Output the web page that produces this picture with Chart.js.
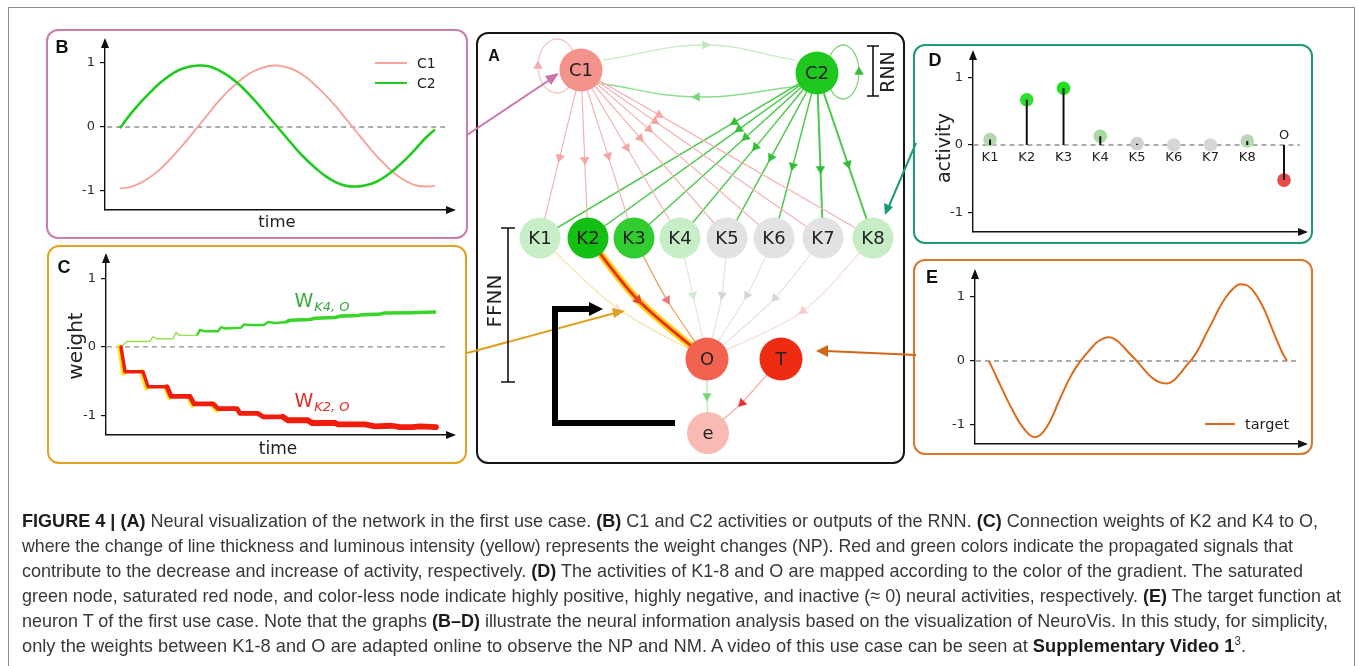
<!DOCTYPE html>
<html>
<head>
<meta charset="utf-8">
<script src="https://cdn.jsdelivr.net/npm/chart.js@4.4.1/dist/chart.umd.min.js"></script>
<style>
html,body{margin:0;padding:0;background:#fff}
body{width:1358px;height:666px;position:relative;overflow:hidden;font-family:'DejaVu Sans',sans-serif;color:#222}
canvas{position:absolute}
.frame{position:absolute;left:8px;top:7px;width:1347px;height:720px;border:1.5px solid #8c8c8c;border-bottom:none;box-sizing:border-box}
.box{position:absolute;border:2.5px solid;border-radius:12px;box-sizing:border-box;pointer-events:none}
.t{position:absolute;white-space:nowrap;line-height:1}
.c{transform:translate(-50%,-50%)}
.rot{transform:translate(-50%,-50%) rotate(-90deg)}
.letter{font-family:'Liberation Sans',Arial,sans-serif;font-weight:bold;font-size:18px;color:#111}
.sub{font-style:italic;font-size:13px;position:relative;top:4px;margin-left:1px}
.leg{position:absolute;height:0}
.cap{position:absolute;left:22px;font-family:'Liberation Sans',Arial,sans-serif;font-size:19px;color:#383838;white-space:nowrap;transform-origin:0 50%;line-height:24px}
.cap b{font-weight:bold;color:#1c1c1c}
.cap sup{font-size:12px;line-height:0}
svg{position:absolute;left:0;top:0}
</style>
</head>
<body>
<div class="frame"></div>

<canvas id="chartB" width="420" height="209" style="left:47px;top:29px"></canvas>
<canvas id="chartC" width="420" height="218" style="left:47px;top:245px"></canvas>
<canvas id="chartA" width="428" height="430" style="left:477px;top:33px"></canvas>
<canvas id="chartD" width="398" height="197" style="left:915px;top:46px"></canvas>
<canvas id="chartE" width="398" height="193" style="left:915px;top:260px"></canvas>

<div class="box" style="left:46px;top:29px;width:422px;height:210px;border-color:#c97db0"></div>
<div class="box" style="left:47px;top:245px;width:420px;height:219px;border-color:#e2a322"></div>
<div class="box" style="left:476px;top:32px;width:429px;height:432px;border-color:#161616"></div>
<div class="box" style="left:913px;top:44px;width:400px;height:200px;border-color:#1d9b79"></div>
<div class="box" style="left:913px;top:259px;width:400px;height:196px;border-color:#d9772c"></div>

<svg width="1358" height="666" viewBox="0 0 1358 666">
  <!-- connectors between the panels -->
  <line x1="467" y1="135" x2="551" y2="79" stroke="#c874aa" stroke-width="2"/>
  <polygon points="559,73 545,76 551,85" fill="#c874aa"/>
  <line x1="467" y1="353" x2="615" y2="313" stroke="#e0a020" stroke-width="2"/>
  <polygon points="625,311 612,308 614,318" fill="#e0a020"/>
  <line x1="916" y1="143" x2="889" y2="206" stroke="#1a9a78" stroke-width="2"/>
  <polygon points="885,215 884,203 893,207" fill="#1a9a78"/>
  <line x1="916" y1="355" x2="826" y2="351" stroke="#d06818" stroke-width="2"/>
  <polygon points="816,351 828,345 828,357" fill="#d06818"/>
  <!-- RNN / FFNN brackets -->
  <path d="M867 46 H879 M873 46 V96 M867 96 H879" stroke="#111" stroke-width="1.6" fill="none"/>
  <path d="M501 228 H515 M508 228 V382 M501 382 H515" stroke="#111" stroke-width="1.6" fill="none"/>
  <!-- feedback arrow -->
  <polyline points="675,423 555,423 555,309 590,309" stroke="#000" stroke-width="6" fill="none"/>
  <polygon points="603,309 589,302 589,316" fill="#000"/>
</svg>

<div class="t letter c" style="left:62px;top:47px">B</div>
<div class="t letter c" style="left:64px;top:267px">C</div>
<div class="t letter c" style="left:494px;top:56px;font-size:16px">A</div>
<div class="t letter c" style="left:935px;top:60px">D</div>
<div class="t letter c" style="left:932px;top:277px">E</div>

<div class="t c" style="left:277px;top:222px;font-size:16.5px">time</div>
<div class="t c" style="left:278px;top:448px;font-size:17px">time</div>
<div class="t rot" style="left:75px;top:346px;font-size:20px">weight</div>
<div class="t rot" style="left:943px;top:148px;font-size:19px">activity</div>
<div class="t rot" style="left:887px;top:72px;font-size:19px">RNN</div>
<div class="t rot" style="left:494px;top:301px;font-size:20px">FFNN</div>

<div class="leg" style="left:375px;top:62px;width:32px;border-top:2px solid #f5a39b"></div>
<div class="t" style="left:417px;top:56px;font-size:14px">C1</div>
<div class="leg" style="left:375px;top:82px;width:32px;border-top:2.5px solid #22cc22"></div>
<div class="t" style="left:417px;top:76px;font-size:14px">C2</div>
<div class="leg" style="left:1205px;top:423px;width:30px;border-top:2px solid #dd6a1a"></div>
<div class="t" style="left:1245px;top:417px;font-size:14.5px">target</div>

<div class="t c" style="left:322px;top:300px;font-size:19px;color:#3aa83a">W<span class="sub">K4, O</span></div>
<div class="t c" style="left:322px;top:400px;font-size:19px;color:#e42a2a">W<span class="sub">K2, O</span></div>

<div class="cap" style="top:509px"><b>FIGURE 4 | (A)</b> Neural visualization of the network in the first use case. <b>(B)</b> C1 and C2 activities or outputs of the RNN. <b>(C)</b> Connection weights of K2 and K4 to O,</div>
<div class="cap" style="top:534px">where the change of line thickness and luminous intensity (yellow) represents the weight changes (NP). Red and green colors indicate the propagated signals that</div>
<div class="cap" style="top:559px">contribute to the decrease and increase of activity, respectively. <b>(D)</b> The activities of K1-8 and O are mapped according to the color of the gradient. The saturated</div>
<div class="cap" style="top:584px">green node, saturated red node, and color-less node indicate highly positive, highly negative, and inactive (≈ 0) neural activities, respectively. <b>(E)</b> The target function at</div>
<div class="cap" style="top:609px">neuron T of the first use case. Note that the graphs <b>(B–D)</b> illustrate the neural information analysis based on the visualization of NeuroVis. In this study, for simplicity,</div>
<div class="cap" style="top:634px">only the weights between K1-8 and O are adapted online to observe the NP and NM. A video of this use case can be seen at <b>Supplementary Video 1</b><sup>3</sup>.</div>

<script>
// ---------------- data ----------------
// (B) RNN outputs over time
const bTime = [0,1,2,3,4,5,6,7,8,9,10,11,12,13,14,15,16,17,18,19,20,21,22,23,24,25,26,27,28,29,30,31,32];
const bC1 = [-0.96,-0.94,-0.88,-0.79,-0.67,-0.52,-0.35,-0.17,0.02,0.21,0.40,0.56,0.70,0.82,0.90,0.95,0.96,0.93,0.87,0.77,0.63,0.48,0.31,0.12,-0.07,-0.26,-0.44,-0.60,-0.74,-0.84,-0.91,-0.93,-0.92];
const bC2 = [-0.02,0.19,0.37,0.53,0.68,0.80,0.89,0.94,0.96,0.95,0.89,0.80,0.68,0.53,0.36,0.18,0.00,-0.18,-0.36,-0.52,-0.66,-0.78,-0.87,-0.92,-0.93,-0.91,-0.86,-0.77,-0.65,-0.51,-0.35,-0.18,-0.04];

// (C) connection weights over time
const wK4Time = [0,6,29,32,36,52,55,59,76,79,83,97,100,104,120,123,127,143,147,154,164,169,189,194,214,219,237,241,259,264,289,315];
const wK4 = [0,0.08,0.08,0.15,0.12,0.12,0.21,0.17,0.17,0.25,0.23,0.23,0.29,0.27,0.28,0.33,0.32,0.32,0.365,0.35,0.36,0.39,0.40,0.42,0.43,0.45,0.46,0.47,0.48,0.495,0.50,0.51];
const wK2Time = [0,4,22,27,46,50,69,73,92,97,116,119,137,142,162,167,187,191,214,217,244,254,271,279,291,299,315];
const wK2 = [0,-0.36,-0.36,-0.58,-0.58,-0.72,-0.72,-0.83,-0.83,-0.90,-0.90,-0.97,-0.97,-1.02,-1.02,-1.07,-1.07,-1.11,-1.11,-1.13,-1.13,-1.16,-1.15,-1.17,-1.17,-1.16,-1.17];

// (D) activities of the hidden neurons and the output
const dNames = ['K1','K2','K3','K4','K5','K6','K7','K8','O'];
const dActivity = [0.08,0.67,0.84,0.13,0.02,0.00,0.00,0.06,-0.52];
const dColors = ['#b6d7ad','#2fe02f','#22df22','#a9d8a1','#cfcfcf','#d6d6d6','#d6d6d6','#b9d5b1','#e84a4a'];

// (E) target function
const eTime = [0,6,12,18,24,30,36,41,46,51,57,63,69,75,81,87,93,100,107,114,120,127,134,141,149,156,163,170,178,185,192,198,203,210,217,223,230,237,244,251,257,263,269,276,282,288,293,298];
const eTarget = [0,-0.2,-0.4,-0.6,-0.78,-0.95,-1.08,-1.16,-1.19,-1.16,-1.05,-0.88,-0.66,-0.45,-0.26,-0.1,0.03,0.16,0.28,0.35,0.37,0.33,0.23,0.11,-0.02,-0.15,-0.26,-0.33,-0.35,-0.3,-0.18,-0.06,0.03,0.2,0.42,0.6,0.82,1.0,1.13,1.2,1.19,1.12,0.99,0.78,0.55,0.32,0.14,0];

const yTicks = [-1, 0, 1];

// (A) network: neurons and their activity colours
const nodeNames = ['C1','C2','K1','K2','K3','K4','K5','K6','K7','K8','O','T','e'];
const nodeColors = ['#f4938b','#1ec81e','#c8eec8','#13bf13','#30cc30','#c8eec8','#e2e2e2','#e2e2e2','#e2e2e2','#c6edc6','#f2634f','#ee2c12','#f9bab3'];
const hiddenNames = ['K1','K2','K3','K4','K5','K6','K7','K8'];

// ---------------- layout of the network panel (panel pixels) ----------------
const nodeX = [104,340,63,111,157,203,250,297,346,396,230,304,231];
const nodeY = [37,40,205,205,205,205,205,205,205,205,326,326,400];
const nodeR = [21.5,21.5,20.5,20.5,20.5,20.5,20.5,20.5,20.5,20.5,21.5,21.5,21];
const koBend = {K1:[140,275],K2:[161,267],K3:[190,267],K4:[216,262],K5:[245,262],K6:[270,262],K7:[298,265],K8:[326,278]};

// ---------------- shared axis helpers ----------------
const FONT = 'DejaVu Sans';
const axisArrows = {
  id: 'axisArrows',
  afterDraw(chart) {
    const {ctx, chartArea: a} = chart;
    ctx.save();
    ctx.fillStyle = '#111';
    ctx.beginPath();
    ctx.moveTo(a.left, a.top - 3); ctx.lineTo(a.left - 4, a.top + 7); ctx.lineTo(a.left + 4, a.top + 7);
    ctx.closePath(); ctx.fill();
    ctx.beginPath();
    ctx.moveTo(a.right + 3, a.bottom); ctx.lineTo(a.right - 7, a.bottom - 4); ctx.lineTo(a.right - 7, a.bottom + 4);
    ctx.closePath(); ctx.fill();
    ctx.restore();
  }
};

function zeroLine(x0, x1) {
  return {type: 'line', data: [{x: x0, y: 0}, {x: x1, y: 0}], borderColor: '#8f8f8f', borderWidth: 1.3,
          borderDash: [5, 4], pointRadius: 0, order: 20};
}

function plot(id, g, datasets, plugins) {
  return new Chart(document.getElementById(id), {
    type: 'line',
    data: {datasets},
    options: {
      responsive: false, maintainAspectRatio: false, animation: false, events: [],
      layout: {autoPadding: false, padding: {left: 0, top: g.top, right: g.right, bottom: 0}},
      plugins: {legend: {display: false}, tooltip: {enabled: false}},
      elements: {point: {radius: 0}},
      scales: {
        x: {type: 'linear', min: g.xmin, max: g.xmax,
            afterFit(s) { s.height = g.xh; s.paddingLeft = 0; s.paddingRight = 0; },
            ticks: {display: false}, grid: {display: false},
            border: {display: true, color: '#111', width: 1.4}},
        y: {type: 'linear', min: g.ymin, max: g.ymax,
            afterFit(s) { s.width = g.yw; s.paddingTop = 0; s.paddingBottom = 0; },
            afterBuildTicks(s) { s.ticks = yTicks.map(v => ({value: v})); },
            ticks: {color: '#2a2a2a', font: {family: FONT, size: 13}, padding: 5},
            grid: {display: true, drawOnChartArea: false, drawTicks: true, tickLength: 5, color: '#111', lineWidth: 1.2},
            border: {display: true, color: '#111', width: 1.4}}
      }
    },
    plugins: [axisArrows].concat(plugins || [])
  });
}

const pts = (xs, ys) => xs.map((x, i) => ({x, y: ys[i]}));

// ---------------- (B) ----------------
plot('chartB', {top: 12, right: 14, yw: 58, xh: 28, xmin: -1.524, xmax: 33.84, ymin: -1.297, ymax: 1.344}, [
  {data: pts(bTime, bC2), borderColor: '#1fcb1f', borderWidth: 2.6, tension: 0.4, order: 1},
  {data: pts(bTime, bC1), borderColor: '#f5a39b', borderWidth: 1.9, tension: 0.4, order: 2},
  zeroLine(-1.3, 33.3)
]);

// ---------------- (C) ----------------
// glow on the early downward jumps of W_K2,O
const glow = [];
for (let i = 0; i < 10; i += 2) {
  glow.push({x: wK2Time[i] - 1.5, y: wK2[i]}, {x: wK2Time[i + 1] - 1.5, y: wK2[i + 1] - 0.02}, {x: wK2Time[i + 1], y: null});
}
plot('chartC', {top: 11, right: 14, yw: 59, xh: 28, xmin: -15, xmax: 332, ymin: -1.285, ymax: 1.328}, [
  {data: pts(wK2Time, wK2), borderColor: '#f01c0c', borderJoinStyle: 'round', borderCapStyle: 'round', tension: 0, order: 1,
   segment: {borderWidth: c => c.p0.parsed.x < 40 ? 3.5 : c.p0.parsed.x < 150 ? 4.8 : 5.8}},
  {data: glow, borderColor: '#ffe61a', borderWidth: 5, borderCapStyle: 'round', spanGaps: false, order: 2},
  {data: pts(wK4Time, wK4), borderColor: '#3ad52a', borderJoinStyle: 'round', tension: 0, order: 3,
   segment: {
     borderWidth: c => c.p0.parsed.x < 60 ? 1.4 : c.p0.parsed.x < 160 ? 2.4 : 3.6,
     borderColor: c => c.p0.parsed.x < 60 ? '#98e04c' : '#3ad52a'}},
  zeroLine(-14, 327)
]);

// ---------------- (D) ----------------
const dIdx = dNames.map((_, i) => i);
const stems = [];
dActivity.forEach((v, i) => { stems.push({x: i, y: 0}, {x: i, y: v}, {x: i, y: null}); });
const stemLabels = {
  id: 'stemLabels',
  afterDatasetsDraw(chart) {
    const {ctx, scales: {x, y}} = chart;
    ctx.save();
    ctx.font = '13px ' + FONT; ctx.fillStyle = '#222'; ctx.textAlign = 'center'; ctx.textBaseline = 'middle';
    const y0 = y.getPixelForValue(0);
    dNames.forEach((n, i) => {
      ctx.fillText(n, x.getPixelForValue(i), dActivity[i] >= 0 ? y0 + 13 : y0 - 9);
    });
    ctx.restore();
  }
};
plot('chartD', {top: 7, right: 8, yw: 58, xh: 11, xmin: -0.463, xmax: 8.571, ymin: -1.289, ymax: 1.363}, [
  {data: stems, borderColor: '#111', borderWidth: 2, spanGaps: false, order: 1},
  {data: pts(dIdx, dActivity), showLine: false, pointRadius: 6.8, pointBackgroundColor: dColors,
   pointBorderColor: dColors, pointBorderWidth: 0, order: 2},
  zeroLine(-0.45, 8.43)
], [stemLabels]);

// ---------------- (E) ----------------
plot('chartE', {top: 12, right: 8, yw: 60, xh: 9, xmin: -14, xmax: 316, ymin: -1.297, ymax: 1.391}, [
  {data: pts(eTime, eTarget), borderColor: '#dd6a1a', borderWidth: 2, cubicInterpolationMode: 'monotone', order: 1},
  zeroLine(-13, 311)
]);

// ---------------- (A) network ----------------
const at = n => nodeNames.indexOf(n);
const P = n => ({x: nodeX[at(n)], y: nodeY[at(n)]});
const rotation = (a, b) => Math.atan2(b.x - a.x, -(b.y - a.y)) * 180 / Math.PI;
const netSets = [];

function edge(path, arrowAt, rot, color, width, arrowColor, arrowSize, order, tension) {
  const r = path.map((_, i) => i === arrowAt ? arrowSize : 0);
  netSets.push({data: path, borderColor: color, borderWidth: width, tension: tension || 0,
    pointStyle: 'triangle', pointRadius: r, pointRotation: path.map((_, i) => i === arrowAt ? rot : 0),
    pointBackgroundColor: arrowColor, pointBorderColor: arrowColor, pointBorderWidth: 0.5,
    order: order || 5, clip: false});
}
function straight(from, to, color, width, arrowColor, dist, size) {
  const a = P(from), b = P(to);
  const len = Math.hypot(b.x - a.x, b.y - a.y);
  const m = {x: a.x + (b.x - a.x) * dist / len, y: a.y + (b.y - a.y) * dist / len};
  edge([a, m, b], 1, rotation(a, b), color, width, arrowColor, size || 5);
}

// recurrent input to the hidden layer
hiddenNames.forEach(k => straight('C1', k, '#f2b4b4', 1.2, '#f4a4a4', 90));
hiddenNames.forEach(k => straight('C2', k, '#4ec84e', (k === 'K7' || k === 'K8') ? 2 : 1.5, '#35bd35', 96));

// hidden layer to output
const koStyle = {
  K1: ['#f5e2a6', 1.2, '#fbe2e2'], K3: ['#e9aa6a', 1.4, '#f07474'], K4: ['#d9eed9', 1.2, '#cdebcd'],
  K5: ['#e3e3e3', 1.2, '#d6d6d6'], K6: ['#e3e3e3', 1.2, '#d6d6d6'], K7: ['#e3e3e3', 1.2, '#d6d6d6'],
  K8: ['#f7dcdc', 1.2, '#f7cccc']
};
hiddenNames.forEach(k => {
  const a = P(k), b = P('O'), m = {x: koBend[k][0], y: koBend[k][1]};
  if (k === 'K2') {
    edge([a, m, b], 1, rotation(a, b), '#e8321e', 3, '#e8402e', 5.5, 2, 0.3);
    edge([a, m, b], -1, 0, '#ffd11a', 7.5, '#ffd11a', 0, 3, 0.3);
  } else {
    const s = koStyle[k];
    edge([a, m, b], 1, rotation(a, b), s[0], s[1], s[2], 5, 5, 0.3);
  }
});

// error neuron
edge([P('O'), {x: 230, y: 363}, P('e')], 1, 180, '#b7e8b7', 1.3, '#72da72', 5);
edge([P('T'), {x: 265, y: 370}, P('e')], 1, rotation(P('T'), P('e')), '#f2b2b2', 1.3, '#e63030', 5);

// recurrent links between C1 and C2
edge([{x: 126, y: 27}, {x: 228, y: 12}, {x: 318, y: 27}], 1, 90, '#c6ebc6', 1.3, '#bde8bd', 5, 5, 0.4);
edge([{x: 323, y: 53}, {x: 220, y: 64}, {x: 121, y: 50}], 1, -90, '#8edb8e', 1.5, '#78d678', 5, 5, 0.4);

// self loops
function loop(cx, cy, rx, ry, arrowAngle, color, arrowColor) {
  const path = [];
  let arrowAt = -1;
  for (let k = 0; k <= 20; k++) {
    const th = Math.PI * 2 * k / 20;
    if (Math.abs(th - arrowAngle) < 1e-6) arrowAt = k;
    path.push({x: cx + rx * Math.cos(th), y: cy + ry * Math.sin(th)});
  }
  edge(path, arrowAt, 0, color, 1.3, arrowColor, 5, 6, 0.4);
}
loop(80, 33, 19, 27, Math.PI, '#f5c6c6', '#f3adad');
loop(366, 39, 16, 27, 0, '#7fd67f', '#35bd35');

// neurons on top
netSets.push({data: nodeNames.map(P), showLine: false, pointStyle: 'circle', pointRadius: nodeR,
  pointBackgroundColor: nodeColors, pointBorderColor: nodeColors, pointBorderWidth: 0, order: 0, clip: false});

const nodeLabels = {
  id: 'nodeLabels',
  afterDatasetsDraw(chart) {
    const {ctx, scales: {x, y}} = chart;
    ctx.save();
    ctx.font = '18px ' + FONT; ctx.fillStyle = '#222'; ctx.textAlign = 'center'; ctx.textBaseline = 'middle';
    nodeNames.forEach((n, i) => ctx.fillText(n, x.getPixelForValue(nodeX[i]), y.getPixelForValue(nodeY[i]) + 1));
    ctx.restore();
  }
};

new Chart(document.getElementById('chartA'), {
  type: 'line',
  data: {datasets: netSets},
  options: {
    responsive: false, maintainAspectRatio: false, animation: false, events: [],
    layout: {autoPadding: false, padding: 0},
    plugins: {legend: {display: false}, tooltip: {enabled: false}},
    scales: {
      x: {type: 'linear', min: 0, max: 428, display: false},
      y: {type: 'linear', min: 0, max: 430, reverse: true, display: false}
    }
  },
  plugins: [nodeLabels]
});

// caption lines are set to the measure of the page
const lineRight = [1318, 1293, 1303, 1341, 1328, 1246];
document.querySelectorAll('.cap').forEach((el, i) => {
  const w = el.getBoundingClientRect().width;
  el.style.transform = 'scaleX(' + ((lineRight[i] - 22) / w).toFixed(4) + ')';
});
</script>
</body>
</html>
